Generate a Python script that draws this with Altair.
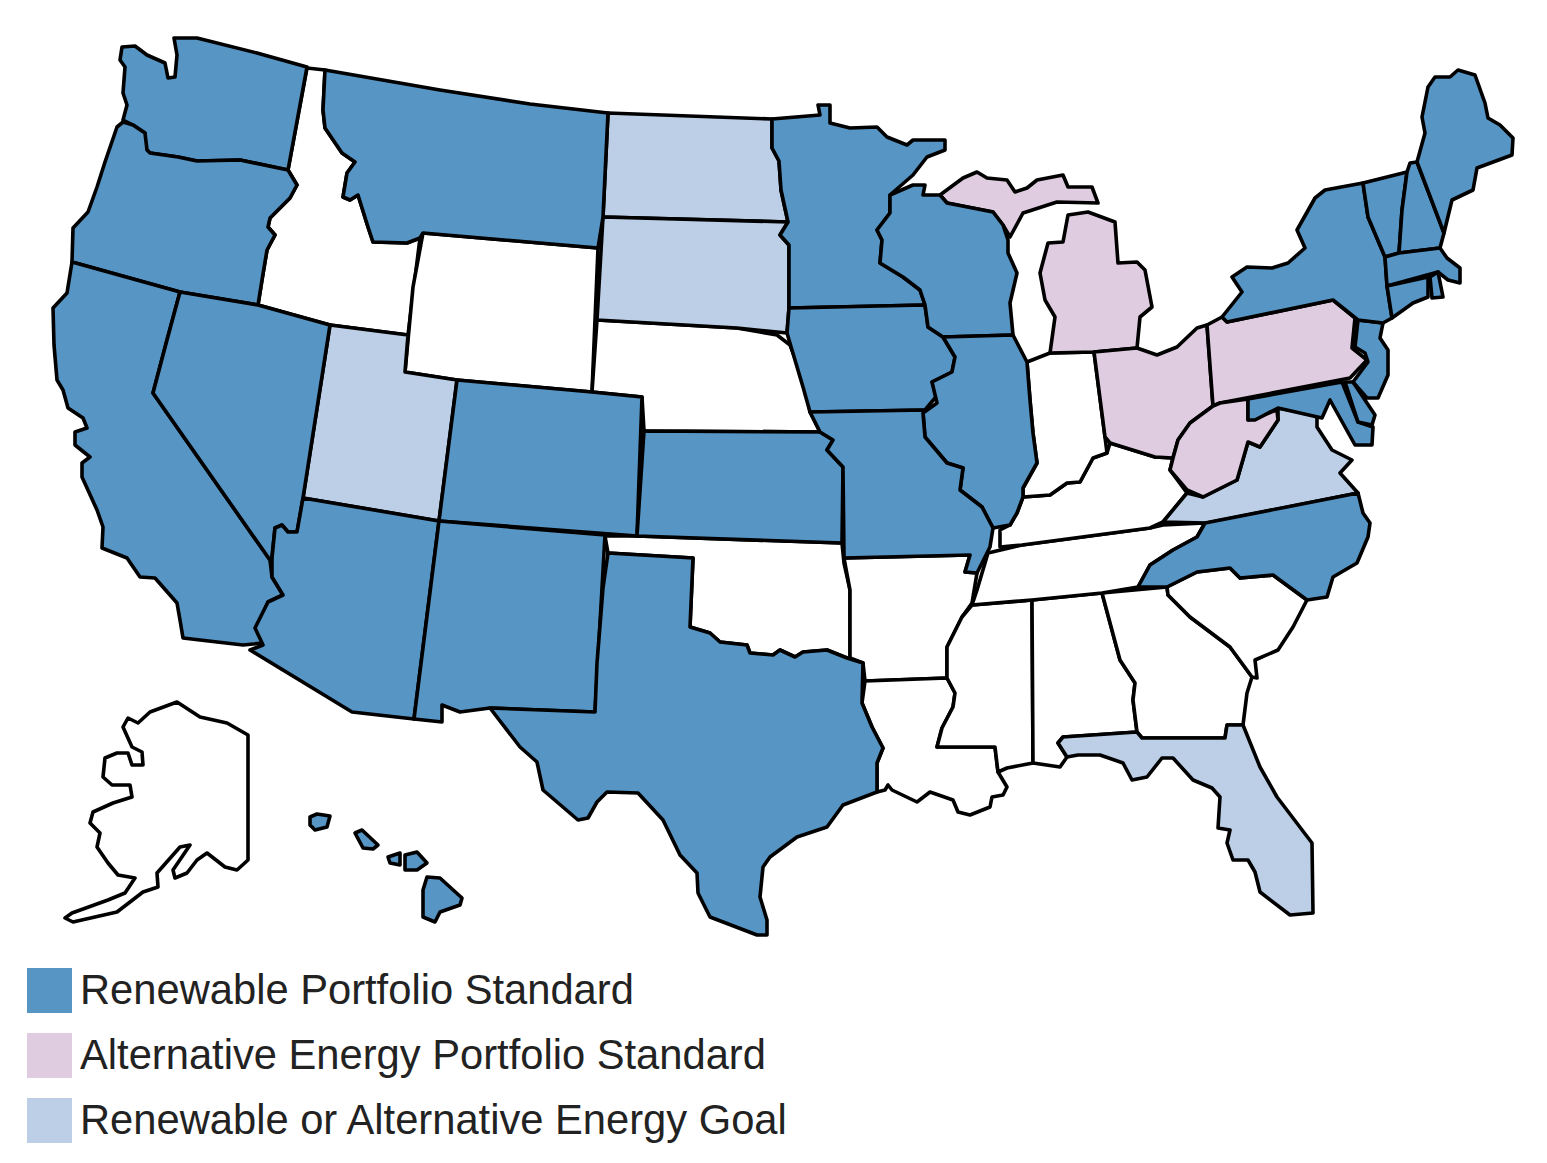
import altair as alt

WA = [(122,47),(135,46),(147,55),(165,63),(168,78),(175,77),(177,55),(174,38),(197,38),(257,53),(307,67),(288,170),(240,160),(197,161),(178,157),(150,153),(145,148),(145,133),(133,125),(123,120),(127,105),(123,93),(125,67),(120,60)]
OR = [(123,122),(133,125),(145,133),(147,150),(150,153),(178,157),(197,161),(240,160),(288,170),(297,185),(290,198),(270,218),(268,227),(275,235),(267,250),(262,280),(258,305),(180,292),(72,262),(73,228),(88,212),(97,187),(105,162),(117,127)]
CA = [(72,262),(180,292),(167,340),(153,393),(270,560),(272,577),(283,595),(268,602),(257,628),(263,643),(243,645),(200,640),(183,638),(180,620),(177,603),(155,578),(140,577),(127,558),(102,548),(103,527),(97,510),(82,477),(82,463),(90,457),(75,445),(75,432),(87,428),(83,418),(68,408),(63,390),(57,380),(54,345),(53,308),(67,293)]
NV = [(180,292),(258,305),(330,325),(303,498),(297,532),(288,532),(282,525),(275,528),(272,557),(270,560),(153,393),(167,340)]
ID = [(307,68),(325,70),(323,110),(325,128),(342,153),(355,162),(347,173),(343,197),(350,200),(358,195),(368,227),(373,242),(407,243),(420,238),(408,335),(330,325),(258,305),(262,280),(267,250),(275,235),(268,227),(270,218),(290,198),(297,185),(288,170)]
MT = [(325,70),(440,90),(530,104),(608,113),(603,217),(598,248),(423,233),(420,238),(407,243),(373,242),(368,227),(358,195),(350,200),(343,197),(347,173),(355,162),(342,153),(325,128),(323,110)]
WY = [(423,233),(598,248),(592,392),(457,380),(405,372),(413,287)]
UT = [(330,325),(408,335),(405,372),(457,380),(439,521),(303,498)]
CO = [(457,380),(592,392),(642,397),(637,536),(439,521)]
AZ = [(303,498),(439,521),(414,719),(352,712),(250,650),(263,645),(255,628),(268,602),(283,595),(272,577),(272,558),(275,528),(282,525),(288,532),(297,532)]
NM = [(439,521),(605,535),(595,712),(490,708),(460,712),(442,705),(442,722),(414,719)]
TX = [(608,553),(693,558),(690,627),(710,633),(720,642),(747,645),(750,653),(773,655),(780,650),(795,657),(803,652),(827,650),(847,658),(863,663),(862,703),(872,727),(883,748),(877,763),(877,792),(843,805),(827,827),(797,837),(770,857),(763,867),(760,897),(767,920),(767,935),(757,935),(710,917),(698,893),(697,873),(680,855),(663,820),(638,793),(607,792),(597,802),(588,818),(578,820),(543,790),(537,762),(520,747),(490,708),(595,712),(597,663),(603,588)]
OK = [(605,536),(637,536),(842,543),(844,563),(850,590),(850,658),(847,658),(827,650),(803,652),(795,657),(780,650),(773,655),(750,653),(747,645),(720,642),(710,633),(690,627),(693,558),(608,553)]
ND = [(608,113),(772,119),(772,148),(779,161),(781,190),(788,222),(603,217)]
SD = [(603,217),(788,222),(780,235),(789,245),(789,308),(787,333),(737,328),(597,320)]
NE = [(597,320),(737,328),(777,335),(790,345),(797,363),(807,393),(810,412),(820,432),(644,431),(642,397),(592,392)]
KS = [(644,431),(820,432),(833,440),(827,450),(843,467),(842,543),(637,536)]
MN = [(772,119),(820,115),(818,105),(830,105),(830,123),(850,128),(877,127),(887,137),(907,145),(913,140),(945,140),(945,150),(927,157),(913,175),(890,195),(890,213),(877,230),(882,240),(880,263),(903,277),(920,290),(925,305),(789,308),(789,245),(780,235),(788,222),(781,190),(779,161),(772,148)]
IA = [(789,308),(925,305),(928,327),(943,337),(955,357),(952,372),(932,382),(940,392),(925,410),(810,412),(803,387),(792,350),(787,333)]
WI = [(890,195),(913,185),(925,185),(923,195),(940,195),(947,203),(993,212),(1003,225),(1008,240),(1008,253),(1017,273),(1010,303),(1013,335),(943,337),(928,327),(925,305),(920,290),(903,277),(880,263),(882,240),(877,230),(890,213)]
IL = [(943,337),(1013,335),(1027,362),(1030,400),(1033,433),(1037,463),(1023,488),(1023,497),(1017,513),(1010,525),(993,528),(982,507),(960,490),(963,468),(947,463),(925,437),(923,413),(937,403),(932,382),(952,372),(955,357)]
MO = [(810,412),(925,410),(923,413),(925,437),(947,463),(963,468),(960,490),(982,507),(993,528),(990,547),(977,573),(965,572),(970,555),(844,558),(843,467),(827,450),(833,440),(820,432)]
AR = [(844,558),(970,555),(965,572),(977,573),(972,603),(962,617),(947,647),(947,678),(865,681),(863,663),(850,658),(850,590)]
LA = [(865,681),(947,678),(955,693),(953,707),(942,728),(937,747),(995,747),(998,772),(1007,787),(1003,795),(992,797),(990,807),(970,815),(958,812),(953,800),(930,792),(917,802),(892,790),(888,785),(885,790),(877,792),(877,763),(883,748),(872,727),(862,703)]
MS = [(972,605),(1032,600),(1033,763),(1007,768),(998,772),(995,747),(937,747),(942,728),(953,707),(955,693),(947,678),(947,647),(962,617)]
AL = [(1032,600),(1102,593),(1120,660),(1135,683),(1133,700),(1137,732),(1063,737),(1058,743),(1067,757),(1060,767),(1033,763)]
GA = [(1102,593),(1167,587),(1168,595),(1190,617),(1230,647),(1252,677),(1247,693),(1243,725),(1227,725),(1225,738),(1142,738),(1137,732),(1133,700),(1135,683),(1120,660)]
FL = [(1058,743),(1063,737),(1137,732),(1142,738),(1225,738),(1227,725),(1243,725),(1260,767),(1277,797),(1312,843),(1313,913),(1290,915),(1260,892),(1255,872),(1248,860),(1233,860),(1227,843),(1230,830),(1218,828),(1220,797),(1212,788),(1193,780),(1173,758),(1162,758),(1147,777),(1132,780),(1123,763),(1100,755),(1078,755),(1067,757)]
SC = [(1167,587),(1197,572),(1230,568),(1240,578),(1273,575),(1307,600),(1293,627),(1278,650),(1255,660),(1257,678),(1252,677),(1230,647),(1190,617),(1168,595)]
NC = [(1138,587),(1150,565),(1173,550),(1197,537),(1205,523),(1358,493),(1363,513),(1370,523),(1368,537),(1357,563),(1333,577),(1327,597),(1307,600),(1273,575),(1240,578),(1230,568),(1197,572),(1167,587)]
TN = [(988,553),(1022,545),(1150,528),(1163,525),(1205,523),(1197,537),(1173,550),(1150,565),(1138,587),(1102,593),(1032,600),(972,605),(977,590)]
KY = [(1000,530),(1000,547),(1022,545),(1150,528),(1163,522),(1187,493),(1170,470),(1173,458),(1155,457),(1110,443),(1107,453),(1093,458),(1080,482),(1067,483),(1050,495),(1023,497),(1017,513),(1010,525)]
IN = [(1027,362),(1050,353),(1094,352),(1105,437),(1107,453),(1093,458),(1080,482),(1067,483),(1050,495),(1023,497),(1023,488),(1037,463),(1033,433),(1030,400)]
MI_LOWER = [(1050,353),(1055,317),(1045,300),(1040,273),(1048,243),(1063,242),(1068,215),(1088,212),(1115,222),(1118,263),(1137,262),(1145,270),(1152,307),(1140,317),(1137,348),(1094,352)]
MI_UPPER = [(940,195),(963,178),(977,172),(987,178),(1007,180),(1015,192),(1027,188),(1037,180),(1063,175),(1068,187),(1092,187),(1098,203),(1057,202),(1023,213),(1010,237),(1003,225),(993,212),(947,203)]
OH = [(1094,352),(1137,348),(1157,355),(1177,347),(1197,328),(1207,325),(1213,406),(1190,423),(1178,440),(1173,458),(1155,457),(1110,443),(1105,437)]
PA = [(1207,325),(1222,317),(1227,322),(1333,300),(1355,318),(1352,348),(1367,360),(1350,378),(1220,403),(1213,406)]
WV = [(1213,406),(1220,403),(1248,399),(1248,420),(1277,410),(1278,420),(1260,447),(1248,442),(1237,480),(1203,497),(1187,490),(1170,470),(1173,458),(1178,440),(1190,423)]
VA = [(1187,493),(1203,497),(1237,480),(1248,442),(1260,447),(1278,420),(1278,408),(1317,415),(1317,427),(1332,450),(1352,460),(1340,473),(1358,493),(1207,523),(1163,522)]
MD = [(1248,399),(1342,382),(1358,422),(1373,427),(1372,445),(1355,445),(1330,400),(1322,418),(1278,408),(1255,420),(1248,420)]
DE = [(1345,382),(1353,382),(1375,415),(1372,425),(1358,422)]
NJ = [(1358,320),(1383,323),(1380,338),(1388,350),(1388,375),(1378,398),(1367,398),(1353,382),(1368,362),(1365,353),(1355,347)]
NY = [(1227,322),(1222,317),(1242,292),(1232,277),(1247,267),(1272,268),(1288,263),(1305,248),(1297,230),(1315,198),(1325,190),(1363,183),(1368,217),(1385,257),(1387,286),(1392,318),(1383,323),(1358,320),(1333,300)]
VT = [(1363,183),(1407,172),(1402,210),(1399,253),(1385,257),(1368,217)]
NH = [(1407,172),(1410,163),(1417,162),(1444,233),(1440,248),(1399,253),(1402,210)]
ME = [(1417,162),(1425,133),(1422,117),(1428,87),(1435,77),(1450,77),(1458,70),(1475,75),(1485,103),(1488,118),(1500,125),(1513,138),(1512,155),(1477,168),(1473,190),(1452,200),(1444,233)]
MA = [(1385,257),(1399,253),(1440,248),(1447,258),(1460,268),(1460,283),(1448,280),(1438,272),(1387,286)]
CT = [(1387,286),(1428,277),(1428,297),(1413,303),(1392,318)]
RI = [(1430,277),(1438,272),(1443,297),(1432,298)]
AK = [(65,918),(72,913),(108,900),(125,893),(135,878),(118,875),(108,863),(97,847),(100,833),(90,823),(93,812),(113,803),(132,797),(130,785),(112,785),(103,777),(105,758),(117,753),(128,753),(132,765),(143,765),(142,752),(132,747),(123,727),(128,718),(138,723),(150,712),(177,702),(200,717),(227,723),(248,735),(248,860),(237,870),(225,867),(207,853),(197,860),(187,873),(175,878),(173,870),(190,845),(180,847),(157,873),(158,887),(143,892),(117,912),(73,922)]
HI_KAUAI = [(310,817),(317,814),(330,816),(327,827),(315,830),(310,825)]
HI_OAHU = [(355,833),(362,830),(378,845),(373,849),(363,848)]
HI_MOLOKAI = [(388,857),(400,853),(400,865),(390,863)]
HI_MAUI = [(405,855),(417,852),(427,863),(417,870),(405,870)]
HI_BIG = [(427,877),(440,878),(462,898),(460,905),(440,912),(435,922),(423,917),(423,890)]

CATEGORIES = ["Renewable Portfolio Standard", "Alternative Energy Portfolio Standard", "Renewable or Alternative Energy Goal", "None"]
COLORS = ["#5695c4", "#e0cce0", "#bccfe6", "#ffffff"]

RPS = [WA, OR, CA, NV, MT, CO, AZ, NM, TX, KS, MN, IA, WI, IL, MO, NC, MD, DE, NJ, NY, VT, NH, ME, MA, CT, RI, HI_KAUAI, HI_OAHU, HI_MOLOKAI, HI_MAUI, HI_BIG]
ALT = [MI_LOWER, MI_UPPER, OH, PA, WV]
GOAL = [UT, ND, SD, VA, FL]
NONE = [ID, WY, OK, NE, AR, LA, MS, AL, GA, SC, TN, KY, IN, AK]

def feature(ring, status):
    coords = [list(p) for p in ring] + [list(ring[0])]
    return {"type": "Feature", "geometry": {"type": "Polygon", "coordinates": [coords]}, "properties": {"status": status}}

features = []
for group, status in zip([NONE, GOAL, ALT, RPS], [CATEGORIES[3], CATEGORIES[2], CATEGORIES[1], CATEGORIES[0]]):
    features += [feature(r, status) for r in group]

data = alt.Data(values={"type": "FeatureCollection", "features": features}, format=alt.DataFormat(property="features", type="json"))

chart = (
    alt.Chart(data)
    .mark_geoshape(stroke="black", strokeWidth=3.6, strokeJoin="round")
    .encode(
        color=alt.Color(
            "properties.status:N",
            scale=alt.Scale(domain=CATEGORIES, range=COLORS),
            legend=alt.Legend(
                values=CATEGORIES[:3],
                title=None,
                orient="none",
                legendX=19,
                legendY=960,
                symbolType="square",
                symbolSize=2025,
                symbolStrokeWidth=0,
                symbolStrokeColor="transparent",
                labelFontSize=41.7,
                labelFont="Liberation Sans",
                labelColor="#222222",
                labelOffset=8,
                labelLimit=900,
                rowPadding=20,
                padding=0,
            ),
        )
    )
    .project(type="identity", scale=1, translate=[-8, -8])
    .properties(width=1531, height=1147, padding=0, autosize="none", background="white")
    .configure_view(stroke=None)
)

chart.save("out.html", embed_options={"renderer": "svg", "actions": False})
